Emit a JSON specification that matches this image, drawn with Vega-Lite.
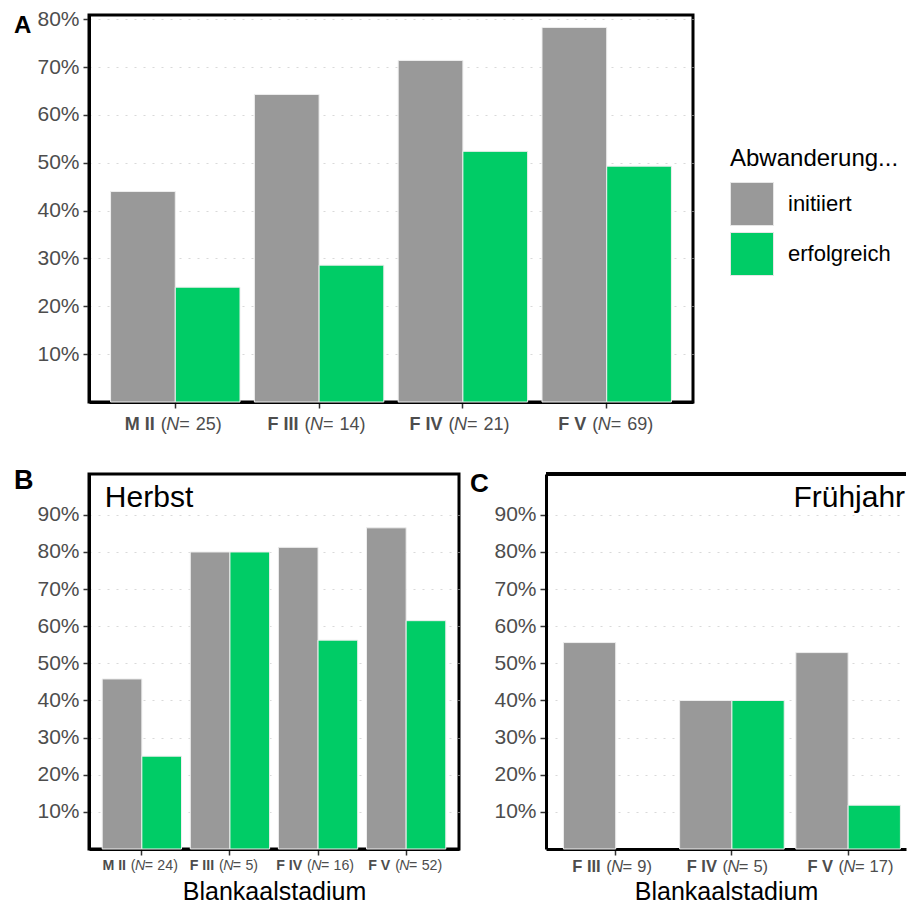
{
  "$schema": "https://vega.github.io/schema/vega-lite/v6.json",
  "padding": {"left": 12, "top": 6, "right": 0, "bottom": 0},
  "background": "white",
  "spacing": 29,
  "resolve": {"scale": {"xOffset": "independent", "x": "independent", "y": "independent", "color": "independent"}},
  "datasets": {
    "gesamt": [
      {"stadium": "M II", "n": 25, "abwanderung": "initiiert", "anteil": 0.44},
      {"stadium": "M II", "n": 25, "abwanderung": "erfolgreich", "anteil": 0.24},
      {"stadium": "F III", "n": 14, "abwanderung": "initiiert", "anteil": 0.643},
      {"stadium": "F III", "n": 14, "abwanderung": "erfolgreich", "anteil": 0.286},
      {"stadium": "F IV", "n": 21, "abwanderung": "initiiert", "anteil": 0.714},
      {"stadium": "F IV", "n": 21, "abwanderung": "erfolgreich", "anteil": 0.524},
      {"stadium": "F V", "n": 69, "abwanderung": "initiiert", "anteil": 0.783},
      {"stadium": "F V", "n": 69, "abwanderung": "erfolgreich", "anteil": 0.493}
    ],
    "herbst": [
      {"stadium": "M II", "n": 24, "abwanderung": "initiiert", "anteil": 0.458},
      {"stadium": "M II", "n": 24, "abwanderung": "erfolgreich", "anteil": 0.25},
      {"stadium": "F III", "n": 5, "abwanderung": "initiiert", "anteil": 0.8},
      {"stadium": "F III", "n": 5, "abwanderung": "erfolgreich", "anteil": 0.8},
      {"stadium": "F IV", "n": 16, "abwanderung": "initiiert", "anteil": 0.8125},
      {"stadium": "F IV", "n": 16, "abwanderung": "erfolgreich", "anteil": 0.5625},
      {"stadium": "F V", "n": 52, "abwanderung": "initiiert", "anteil": 0.865},
      {"stadium": "F V", "n": 52, "abwanderung": "erfolgreich", "anteil": 0.615}
    ],
    "fruehjahr": [
      {"stadium": "F III", "n": 9, "abwanderung": "initiiert", "anteil": 0.556},
      {"stadium": "F III", "n": 9, "abwanderung": "erfolgreich", "anteil": 0.0},
      {"stadium": "F IV", "n": 5, "abwanderung": "initiiert", "anteil": 0.4},
      {"stadium": "F IV", "n": 5, "abwanderung": "erfolgreich", "anteil": 0.4},
      {"stadium": "F V", "n": 17, "abwanderung": "initiiert", "anteil": 0.529},
      {"stadium": "F V", "n": 17, "abwanderung": "erfolgreich", "anteil": 0.118}
    ]
  },
  "config": {
    "font": "Liberation Sans",
    "view": {"stroke": "black", "strokeWidth": 3},
    "axis": {
      "labelFont": "Liberation Sans",
      "labelColor": "#4d4d4d",
      "labelFontSize": 21,
      "labelPadding": 4,
      "tickColor": "#333333",
      "tickWidth": 1.5,
      "tickSize": 6,
      "domainColor": "black",
      "domainWidth": 3,
      "gridColor": "#d9d9d9",
      "gridDash": [2, 7],
      "gridWidth": 1,
      "titleFont": "Liberation Sans",
      "titleFontWeight": "normal",
      "titleColor": "black",
      "titleFontSize": 25
    },
    "title": {
      "font": "Liberation Sans",
      "fontWeight": "bold",
      "fontSize": 26,
      "color": "black",
      "anchor": "start",
      "frame": "group",
      "orient": "top",
      "baseline": "alphabetic",
      "offset": -20
    },
    "text": {"font": "Liberation Sans", "color": "#4d4d4d", "baseline": "alphabetic"}
  },
  "vconcat": [
    {
      "width": 604,
      "height": 387,
      "title": {"text": "A", "dx": -75, "fontSize": 24, "offset": -29.5},
      "data": {"name": "gesamt"},
      "transform": [{"calculate": "datum.n + ')'", "as": "n_rest"}],
      "encoding": {
        "x": {
          "field": "stadium", "type": "nominal",
          "sort": ["M II", "F III", "F IV", "F V"],
          "scale": {"paddingInner": 0.1, "paddingOuter": 0.15},
          "axis": {"title": null, "labels": false}
        }
      },
      "layer": [
        {
          "mark": {"type": "bar", "stroke": "#eeeeee", "strokeWidth": 1},
          "encoding": {
            "xOffset": {"field": "abwanderung", "sort": ["initiiert", "erfolgreich"]},
            "y": {
              "field": "anteil", "type": "quantitative",
              "scale": {"domain": [0, 0.809], "nice": false, "zero": true},
              "axis": {"title": null, "values": [0.1, 0.2, 0.3, 0.4, 0.5, 0.6, 0.7, 0.8], "format": ".0%", "grid": true}
            },
            "color": {
              "field": "abwanderung", "type": "nominal",
              "scale": {"domain": ["initiiert", "erfolgreich"], "range": ["#999999", "#00cc66"]},
              "legend": {
                "title": "Abwanderung...",
                "orient": "none",
                "legendX": 641,
                "legendY": 132,
                "symbolType": "square",
                "symbolSize": 1849,
                "symbolStrokeColor": "#e6e6e6",
                "symbolStrokeWidth": 1,
                "titleFont": "Liberation Sans",
                "titleFontWeight": "normal",
                "titleFontSize": 24,
                "titleColor": "black",
                "titlePadding": 11,
                "labelFont": "Liberation Sans",
                "labelFontSize": 22,
                "labelColor": "black",
                "labelOffset": 14,
                "rowPadding": 2
              }
            }
          }
        },
        {
          "transform": [{"filter": "datum.abwanderung == 'initiiert'"}],
          "mark": {"type": "text", "align": "right", "fontWeight": "bold", "fontSize": 18, "dx": -20.5, "dy": 28},
          "encoding": {"y": {"datum": 0}, "text": {"field": "stadium"}}
        },
        {
          "transform": [{"filter": "datum.abwanderung == 'initiiert'"}],
          "mark": {"type": "text", "align": "left", "fontSize": 18, "dx": -14.5, "dy": 28, "text": "("},
          "encoding": {"y": {"datum": 0}}
        },
        {
          "transform": [{"filter": "datum.abwanderung == 'initiiert'"}],
          "mark": {"type": "text", "align": "left", "fontStyle": "italic", "fontSize": 18, "dx": -9, "dy": 28, "text": "N"},
          "encoding": {"y": {"datum": 0}}
        },
        {
          "transform": [{"filter": "datum.abwanderung == 'initiiert'"}],
          "mark": {"type": "text", "align": "left", "fontSize": 18, "dx": 4, "dy": 28, "text": "="},
          "encoding": {"y": {"datum": 0}}
        },
        {
          "transform": [{"filter": "datum.abwanderung == 'initiiert'"}],
          "mark": {"type": "text", "align": "left", "fontSize": 18, "dx": 20.5, "dy": 28},
          "encoding": {"y": {"datum": 0}, "text": {"field": "n_rest"}}
        }
      ]
    },
    {
      "spacing": 9,
      "resolve": {"scale": {"xOffset": "independent", "x": "independent", "y": "independent", "color": "independent"}},
      "hconcat": [
        {
          "width": 370,
          "height": 375,
          "title": {"text": "B", "dx": -75, "fontSize": 27, "offset": -21},
          "data": {"name": "herbst"},
          "transform": [{"calculate": "datum.n + ')'", "as": "n_rest"}],
          "encoding": {
            "x": {
              "field": "stadium", "type": "nominal",
              "sort": ["M II", "F III", "F IV", "F V"],
              "scale": {"paddingInner": 0.1, "paddingOuter": 0.15},
              "axis": {"title": "Blankaalstadium", "labels": false, "titlePadding": 24}
            }
          },
          "layer": [
            {
              "mark": {"type": "bar", "stroke": "#eeeeee", "strokeWidth": 1},
              "encoding": {
                "xOffset": {"field": "abwanderung", "sort": ["initiiert", "erfolgreich"]},
                "y": {
                  "field": "anteil", "type": "quantitative",
                  "scale": {"domain": [0, 1.01], "nice": false, "zero": true},
                  "axis": {"title": null, "values": [0.1, 0.2, 0.3, 0.4, 0.5, 0.6, 0.7, 0.8, 0.9], "format": ".0%", "grid": true}
                },
                "color": {
                  "field": "abwanderung", "type": "nominal",
                  "scale": {"domain": ["initiiert", "erfolgreich"], "range": ["#999999", "#00cc66"]},
                  "legend": null
                }
              }
            },
            {
              "transform": [{"filter": "datum.stadium == 'M II' && datum.abwanderung == 'initiiert'"}],
              "mark": {"type": "text", "align": "left", "fontSize": 30, "color": "black", "dx": -37, "text": "Herbst"},
              "encoding": {"y": {"datum": 0.92}}
            },
            {
              "transform": [{"filter": "datum.abwanderung == 'initiiert'"}],
              "mark": {"type": "text", "align": "right", "fontWeight": "bold", "fontSize": 14.2, "dx": -15.8, "dy": 21},
              "encoding": {"y": {"datum": 0}, "text": {"field": "stadium"}}
            },
            {
              "transform": [{"filter": "datum.abwanderung == 'initiiert'"}],
              "mark": {"type": "text", "align": "left", "fontSize": 14.2, "dx": -11, "dy": 21, "text": "("},
              "encoding": {"y": {"datum": 0}}
            },
            {
              "transform": [{"filter": "datum.abwanderung == 'initiiert'"}],
              "mark": {"type": "text", "align": "left", "fontStyle": "italic", "fontSize": 14.2, "dx": -6.8, "dy": 21, "text": "N"},
              "encoding": {"y": {"datum": 0}}
            },
            {
              "transform": [{"filter": "datum.abwanderung == 'initiiert'"}],
              "mark": {"type": "text", "align": "left", "fontSize": 14.2, "dx": 2.9, "dy": 21, "text": "="},
              "encoding": {"y": {"datum": 0}}
            },
            {
              "transform": [{"filter": "datum.abwanderung == 'initiiert'"}],
              "mark": {"type": "text", "align": "left", "fontSize": 14.2, "dx": 15.5, "dy": 21},
              "encoding": {"y": {"datum": 0}, "text": {"field": "n_rest"}}
            }
          ]
        },
        {
          "width": 360,
          "height": 375,
          "view": {"stroke": null},
          "title": {"text": "C", "dx": -76, "fontSize": 26, "offset": -24},
          "data": {"name": "fruehjahr"},
          "transform": [{"calculate": "datum.n + ')'", "as": "n_rest"}],
          "layer": [
            {
              "transform": [{"filter": "datum.anteil > 0"}],
              "mark": {"type": "bar", "stroke": "#eeeeee", "strokeWidth": 1},
              "encoding": {
                "x": {
                  "field": "stadium", "type": "nominal",
                  "sort": ["F III", "F IV", "F V"],
                  "scale": {"domain": ["F III", "F IV", "F V"], "paddingInner": 0.1, "paddingOuter": 0.099, "align": 0.757},
                  "axis": {"title": "Blankaalstadium", "labels": false, "titlePadding": 24}
                },
                "xOffset": {"field": "abwanderung", "sort": ["initiiert", "erfolgreich"], "scale": {"domain": ["initiiert", "erfolgreich"]}},
                "y": {
                  "field": "anteil", "type": "quantitative",
                  "scale": {"domain": [0, 1.01], "nice": false, "zero": true},
                  "axis": {"title": null, "values": [0.1, 0.2, 0.3, 0.4, 0.5, 0.6, 0.7, 0.8, 0.9], "format": ".0%", "grid": true}
                },
                "color": {
                  "field": "abwanderung", "type": "nominal",
                  "scale": {"domain": ["initiiert", "erfolgreich"], "range": ["#999999", "#00cc66"]},
                  "legend": null
                }
              }
            },
            {
              "mark": {"type": "rule", "color": "black", "strokeWidth": 3},
              "encoding": {"y": {"datum": 1.01}}
            },
            {
              "transform": [{"filter": "datum.stadium == 'F V' && datum.abwanderung == 'initiiert'"}],
              "mark": {"type": "text", "align": "right", "fontSize": 30, "color": "black", "dx": 57, "text": "Frühjahr"},
              "encoding": {"x": {"field": "stadium", "type": "nominal", "sort": ["F III", "F IV", "F V"]}, "y": {"datum": 0.92}}
            },
            {
              "transform": [{"filter": "datum.abwanderung == 'initiiert'"}],
              "mark": {"type": "text", "align": "right", "fontWeight": "bold", "fontSize": 16.5, "dx": -15, "dy": 23},
              "encoding": {"x": {"field": "stadium", "type": "nominal", "sort": ["F III", "F IV", "F V"]}, "y": {"datum": 0}, "text": {"field": "stadium"}}
            },
            {
              "transform": [{"filter": "datum.abwanderung == 'initiiert'"}],
              "mark": {"type": "text", "align": "left", "fontSize": 16.5, "dx": -9.5, "dy": 23, "text": "("},
              "encoding": {"x": {"field": "stadium", "type": "nominal", "sort": ["F III", "F IV", "F V"]}, "y": {"datum": 0}}
            },
            {
              "transform": [{"filter": "datum.abwanderung == 'initiiert'"}],
              "mark": {"type": "text", "align": "left", "fontStyle": "italic", "fontSize": 16.5, "dx": -4.5, "dy": 23, "text": "N"},
              "encoding": {"x": {"field": "stadium", "type": "nominal", "sort": ["F III", "F IV", "F V"]}, "y": {"datum": 0}}
            },
            {
              "transform": [{"filter": "datum.abwanderung == 'initiiert'"}],
              "mark": {"type": "text", "align": "left", "fontSize": 16.5, "dx": 6.8, "dy": 23, "text": "="},
              "encoding": {"x": {"field": "stadium", "type": "nominal", "sort": ["F III", "F IV", "F V"]}, "y": {"datum": 0}}
            },
            {
              "transform": [{"filter": "datum.abwanderung == 'initiiert'"}],
              "mark": {"type": "text", "align": "left", "fontSize": 16.5, "dx": 21.5, "dy": 23},
              "encoding": {"x": {"field": "stadium", "type": "nominal", "sort": ["F III", "F IV", "F V"]}, "y": {"datum": 0}, "text": {"field": "n_rest"}}
            }
          ]
        }
      ]
    }
  ]
}
